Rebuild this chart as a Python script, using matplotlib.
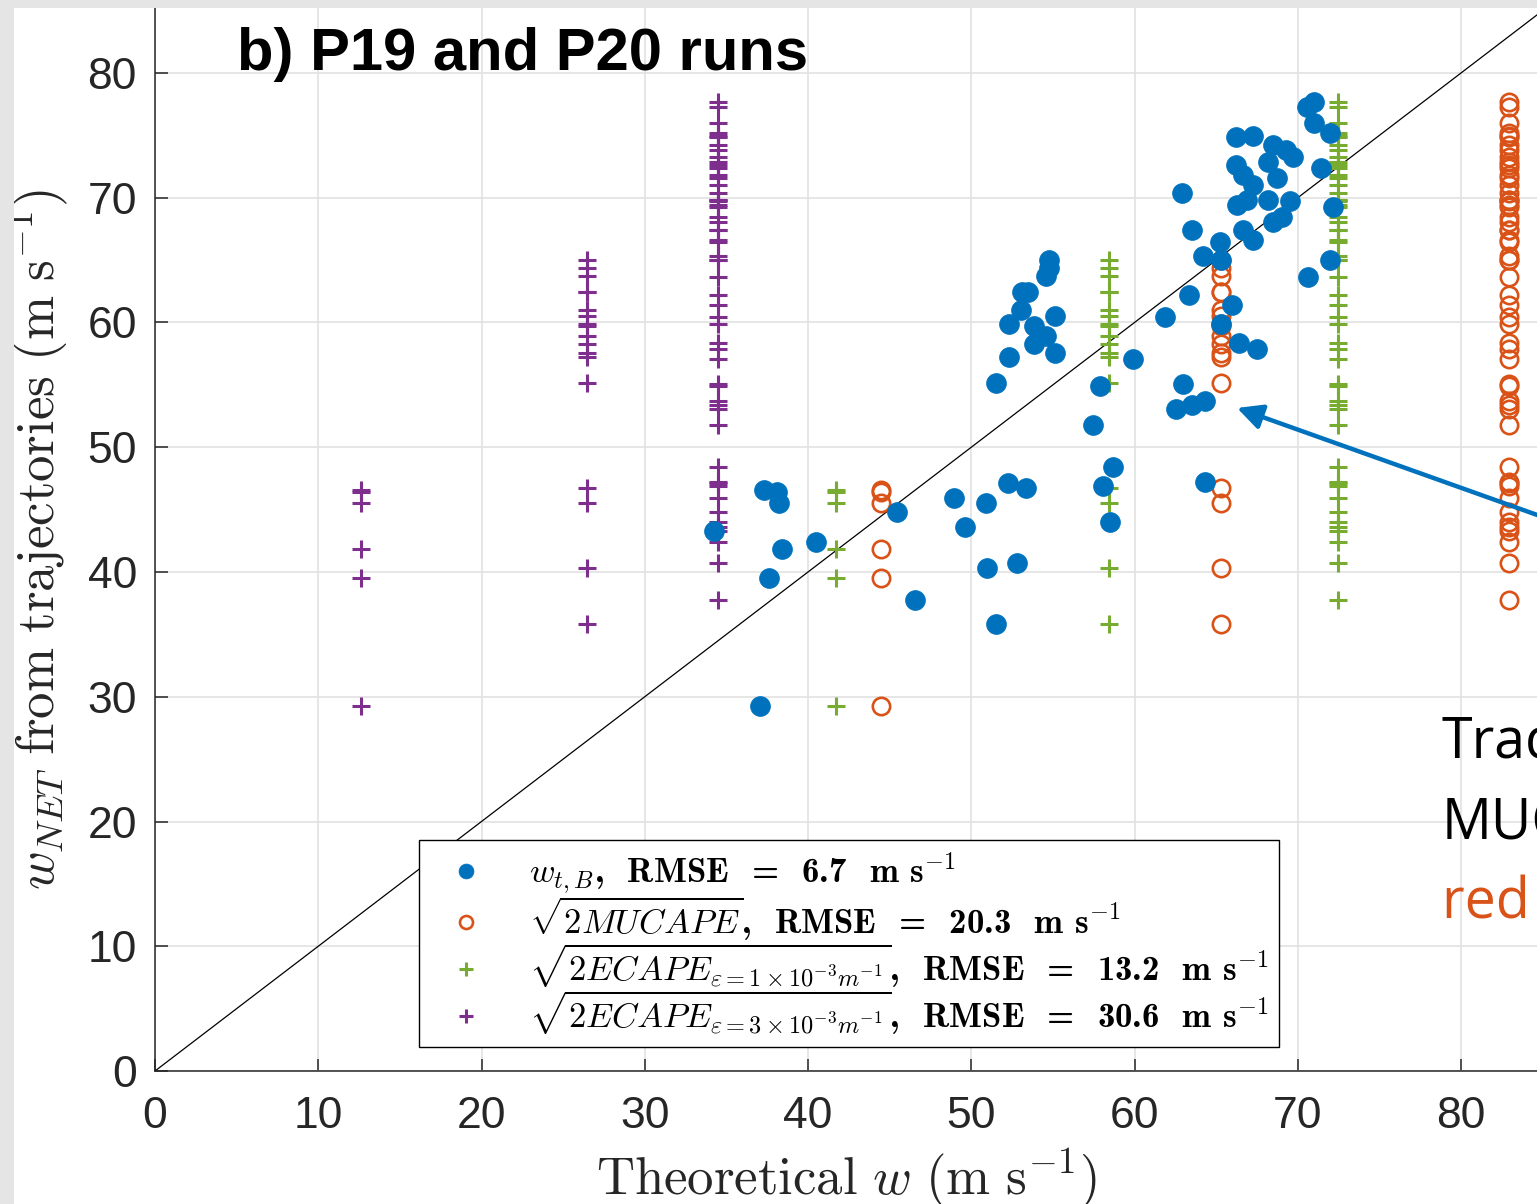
import os
import matplotlib
matplotlib.use("Agg")
import matplotlib.pyplot as plt
from matplotlib.patches import Rectangle
from matplotlib.font_manager import FontProperties

plt.rcParams["mathtext.fontset"] = "cm"

# ---- trajectory data -------------------------------------------------------
# w_NET along each trajectory (y) and the bulk-thermal estimate w_t,B (x),
# grouped by the run/sounding the trajectory belongs to.
wtb_a = [37.31, 38.10, 38.22, 38.41, 37.61, 37.06]
wnet_a = [46.57, 46.41, 45.53, 41.84, 39.52, 29.26]

wtb_b = [51.52, 52.31, 52.31, 53.05, 53.11, 53.48, 53.84, 53.84, 54.58,
         54.58, 54.76, 54.76, 55.13, 55.13, 53.35, 50.90, 50.96, 51.52]
wnet_b = [55.15, 57.23, 59.88, 61.00, 62.44, 62.44, 59.72, 58.28, 58.92,
          63.73, 64.37, 65.01, 60.52, 57.56, 46.73, 45.53, 40.32, 35.83]

wtb_c = [34.24, 40.49, 45.45, 46.55, 48.94, 49.62, 52.25, 52.80, 57.46,
         57.89, 58.07, 58.50, 58.68, 59.91, 61.87, 62.91, 62.97, 62.54,
         63.52, 63.34, 63.52, 64.20, 64.32, 64.32, 65.24, 65.30, 65.30,
         65.97, 66.40, 66.22, 66.22, 66.28, 66.65, 66.65, 66.89, 67.26,
         67.26, 67.26, 67.50, 68.18, 68.48, 68.18, 68.48, 68.73, 69.04,
         69.28, 69.53, 69.71, 70.63, 70.57, 71.00, 71.00, 71.42, 71.98,
         71.98, 72.16]
wnet_c = [43.29, 42.40, 44.81, 37.76, 45.93, 43.61, 47.13, 40.72, 51.78,
          54.91, 46.89, 44.01, 48.42, 57.07, 60.44, 70.38, 55.07, 53.07,
          67.41, 62.20, 53.39, 65.33, 53.71, 47.21, 66.45, 65.01, 59.88,
          61.40, 58.36, 74.87, 72.63, 69.42, 71.82, 67.41, 69.82, 71.02,
          74.95, 66.61, 57.88, 72.87, 74.23, 69.82, 68.06, 71.58, 68.46,
          73.83, 69.74, 73.27, 63.65, 77.27, 77.68, 75.99, 72.38, 65.01,
          75.19, 69.26]

# Theoretical w for each run (m s-1): one value per run, in run order a, b, c
sqrt_mucape = [44.47, 65.30, 82.94]
sqrt_ecape_1e3 = [41.72, 58.44, 72.47]
sqrt_ecape_3e3 = [12.62, 26.46, 34.49]

# Legend RMSE values (m s-1)
rmse_tb, rmse_mucape, rmse_ecape1, rmse_ecape3 = 6.7, 20.3, 13.2, 30.6

# ---- figure ----------------------------------------------------------------
W, H = 1537, 1204
fig = plt.figure(figsize=(W / 100, H / 100), dpi=100, facecolor="white")

# axes frame in pixels (extends past the right and top edges of the canvas)
px_left, px_right, px_top, px_bottom = 155, 1700, -40, 1071
ax = fig.add_axes([px_left / W, 1 - px_bottom / H,
                   (px_right - px_left) / W, (px_bottom - px_top) / H])
xmax = (px_right - px_left) / 16.325
ymax = (px_bottom - px_top) / 12.475
ax.set_xlim(0, xmax)
ax.set_ylim(0, ymax)

BLUE, ORANGE, GREEN, PURPLE = "#0072BD", "#D95319", "#77AC30", "#7E2F8E"

groups = [(wtb_a, wnet_a), (wtb_b, wnet_b), (wtb_c, wnet_c)]

# 1:1 line
ax.plot([0, 100], [0, 100], color="black", lw=0.9, zorder=2)

h_o = h_g = h_p = None
for i, (xs, ys) in enumerate(groups):
    n = len(ys)
    h_o, = ax.plot([sqrt_mucape[i]] * n, ys, ls="none", marker="o", ms=12.5,
                   mfc="none", mec=ORANGE, mew=1.9, zorder=3)
    h_g, = ax.plot([sqrt_ecape_1e3[i]] * n, ys, ls="none", marker="+", ms=13,
                   mec=GREEN, mew=2.2, zorder=3)
    h_p, = ax.plot([sqrt_ecape_3e3[i]] * n, ys, ls="none", marker="+", ms=13,
                   mec=PURPLE, mew=2.2, zorder=3)

blue_x = wtb_a + wtb_b + wtb_c
blue_y = wnet_a + wnet_b + wnet_c
h_b, = ax.plot(blue_x, blue_y, ls="none", marker="o", ms=14.3, mfc=BLUE,
               mec=BLUE, mew=0.5, zorder=4)

# axes styling
ax.set_xticks(range(0, 100, 10))
ax.set_yticks(range(0, 90, 10))
ax.grid(True, color="#e2e2e2", lw=1.2)
ax.set_axisbelow(True)
for s in ax.spines.values():
    s.set_color("#262626")
    s.set_linewidth(1.1)
ax.tick_params(direction="in", length=9, width=1.1, colors="#262626",
               labelsize=32)
ax.tick_params(axis="x", pad=18)
ax.tick_params(axis="y", pad=13)
for lab in ax.get_xticklabels() + ax.get_yticklabels():
    lab.set_fontfamily("Liberation Sans")

ax.set_xlabel(r"$\mathrm{Theoretical}\ w\ (\mathrm{m\ s^{-1}})$",
              fontsize=38, color="#262626")
ax.set_ylabel(r"$w_{NET}\ \mathrm{from\ trajectories}\ (\mathrm{m\ s^{-1}})$",
              fontsize=38, color="#262626")
ax.xaxis.set_label_coords((846 - px_left) / (px_right - px_left),
                          (px_bottom - 1146) / (px_bottom - px_top))
ax.yaxis.set_label_coords((70 - px_left) / (px_right - px_left),
                          (px_bottom - 540) / (px_bottom - px_top))

# panel title
ax.text(5.02, 80.24, "b) P19 and P20 runs", fontsize=43, fontweight="bold",
        family="Liberation Sans", va="baseline", ha="left", color="black")

# legend: math symbols in Computer Modern, RMSE text in bold Computer Modern
cm_bold = os.path.join(matplotlib.get_data_path(), "fonts", "ttf", "cmb10.ttf")
leg_font = FontProperties(fname=cm_bold, size=25)
rmse_fmt = ",  RMSE  =  %.1f  m s$^{-1}$"
labels = [
    r"$w_{t,B}$" + rmse_fmt % rmse_tb,
    r"$\sqrt{2MUCAPE}$" + rmse_fmt % rmse_mucape,
    r"$\sqrt{2ECAPE_{\varepsilon=1\times10^{-3}m^{-1}}}$" + rmse_fmt % rmse_ecape1,
    r"$\sqrt{2ECAPE_{\varepsilon=3\times10^{-3}m^{-1}}}$" + rmse_fmt % rmse_ecape3,
]
leg = ax.legend([h_b, h_o, h_g, h_p], labels, loc="lower left",
                bbox_to_anchor=(16.2, 1.9), bbox_transform=ax.transData,
                borderaxespad=0, prop=leg_font, frameon=True, fancybox=False,
                framealpha=1, edgecolor="black", handlelength=2.1,
                handletextpad=0.75, borderpad=0.3, labelspacing=-0.04,
                markerscale=0.75)
leg.get_frame().set_linewidth(1.0)

# annotation arrow and side note
ax.annotate("", xy=(66.28, 53.15), xytext=(92.0, 41.15),
            arrowprops=dict(arrowstyle="-|>", color=BLUE, lw=3.2,
                            mutation_scale=38, shrinkA=0, shrinkB=0),
            zorder=5)
note_x = (1442 - px_left) / 16.325
ax.text(note_x, 25.09, "Traditional", fontsize=40, family="Open Sans",
        color="black", va="baseline", clip_on=False)
ax.text(note_x, 18.52, "MUCAPE", fontsize=40, family="Open Sans",
        color="black", va="baseline", clip_on=False)
ax.text(note_x, 12.26, "red circles", fontsize=40, family="Open Sans",
        color=ORANGE, va="baseline", clip_on=False)

# window border along the top and left
fig.add_artist(Rectangle((0, 1 - 8 / H), 1, 8 / H, transform=fig.transFigure,
                         facecolor="#e5e5e5", edgecolor="none", zorder=10))
fig.add_artist(Rectangle((0, 0), 14 / W, 1, transform=fig.transFigure,
                         facecolor="#e5e5e5", edgecolor="none", zorder=10))

fig.savefig("out.png", dpi=100, facecolor="white")
